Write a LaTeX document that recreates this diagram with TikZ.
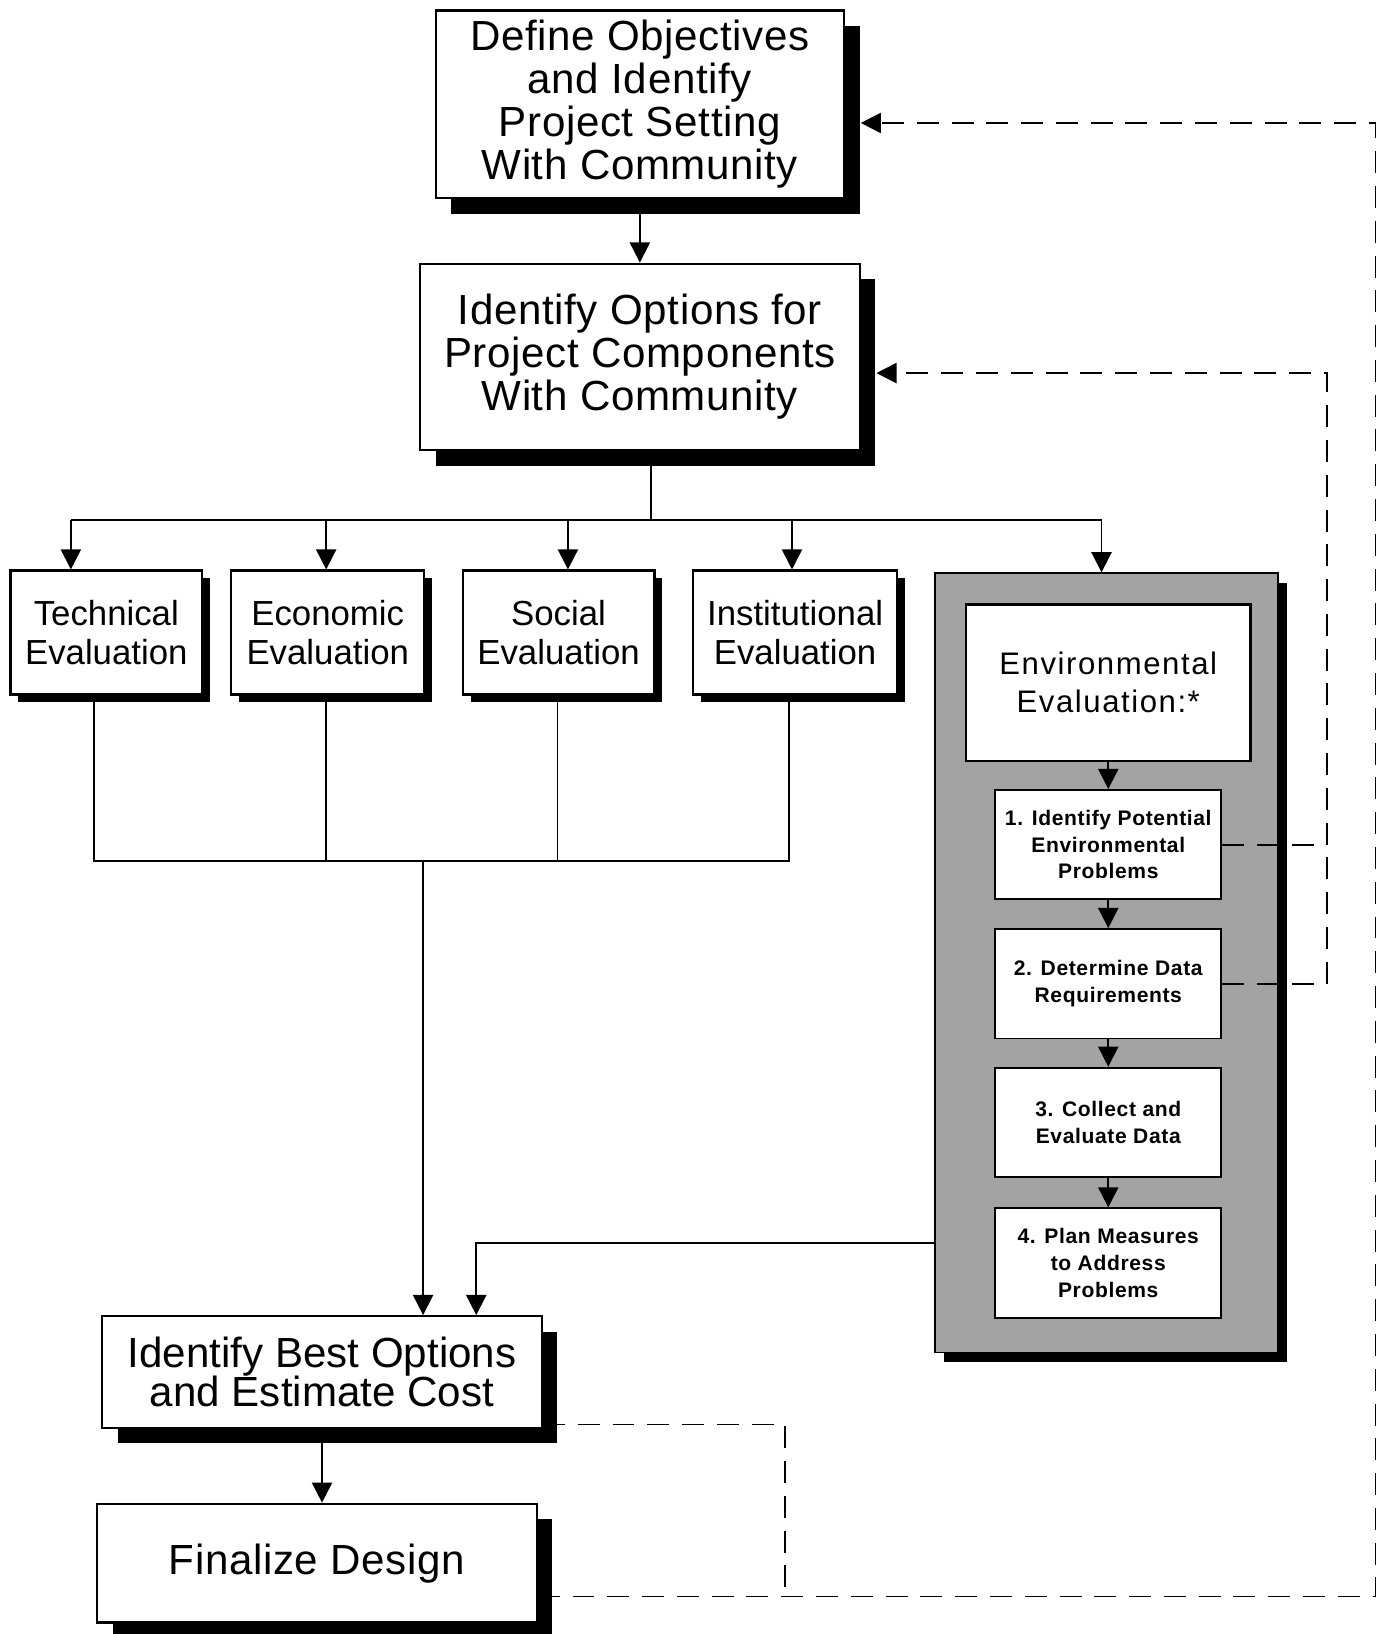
\documentclass[tikz,border=0pt]{standalone}
\usepackage{fontspec}
\setmainfont{Liberation Sans}
\usetikzlibrary{arrows.meta, shadows}

\begin{document}
\begin{tikzpicture}[x=0.02cm, y=-0.02cm,
		box/.style={draw, line width=1.2pt, fill=white, align=center, inner sep=0pt},
		blackshadow/.style={drop shadow={shadow xshift=#1, shadow yshift=-#1, fill=black, opacity=1}},
		bigbox/.style={box, blackshadow=0.3cm, minimum width=8.44cm, font=\fontsize{23}{23.5}\selectfont\addfontfeature{LetterSpace=1.5}},
		evalbox/.style={box, blackshadow=0.15cm, minimum height=2.38cm, font=\fontsize{19}{21}\selectfont},
		stepbox/.style={box, line width=1pt, minimum width=4.34cm, minimum height=2.1cm, font=\fontsize{11.5}{14.6}\selectfont\bfseries\addfontfeature{LetterSpace=3}},
		arr/.style={->, >={Triangle[length=11pt, width=11pt]}, line width=1pt},
		dline/.style={dash pattern=on 12pt off 7pt, line width=1pt}]
				\useasboundingbox (0, 0) rectangle (1322, 1568);
				% top of the flow
				\node[bigbox, minimum width=7.84cm, minimum height=3.6cm] (define)at(614, 100) {Define Objectives\\and Identify\\Project Setting\\With Community};
				\node[bigbox, minimum height=3.58cm] (options)at(614, 342.5) {Identify Options for\\Project Components\\With Community};
				% evaluations
				\node[evalbox, minimum width=3.68cm] (tech)at(102, 607) {Technical\\Evaluation};
				\node[evalbox, minimum width=3.7cm] (econ)at(314.5, 607) {Economic\\Evaluation};
				\node[evalbox, minimum width=3.68cm] (soc)at(536, 607) {Social\\Evaluation};
				\node[evalbox, minimum width=3.92cm] (inst)at(763, 607) {Institutional\\Evaluation};
				\node[draw, line width=1pt, fill=black!36, blackshadow=0.18cm, minimum width=6.58cm, minimum height=14.96cm] (panel)at(1061.5, 924) {};
				\node[box, minimum width=5.46cm, minimum height=3cm, font=\fontsize{17}{20.6}\selectfont\addfontfeature{LetterSpace=5}] (env)at(1063.5, 655) {Environmental\\Evaluation:*};
				\node[stepbox] (s1)at(1063.5, 810.5) {1. Identify Potential\\Environmental\\Problems};
				\node[stepbox] (s2)at(1063.5, 944) {2. Determine Data\\Requirements};
				\node[stepbox] (s3)at(1063.5, 1077) {3. Collect and\\Evaluate Data};
				\node[stepbox] (s4)at(1063.5, 1212) {4. Plan Measures\\to Address\\Problems};
				% bottom of the flow
				\node[bigbox, minimum height=2.14cm, font=\fontsize{23}{21.5}\selectfont] (best)at(309, 1316.5) {Identify Best Options\\and Estimate Cost};
				\node[bigbox, minimum height=2.28cm] (final)at(304, 1500) {Finalize Design};
				% solid connectors
				\coordinate (bus)at(625, 499);
				\coordinate (bT)at(68, 499);
				\coordinate (bEc)at(313, 499);
				\coordinate (bS)at(545, 499);
				\coordinate (bI)at(760, 499);
				\coordinate (bE)at(1057, 499);
				\draw[arr] (define) -- (options);
				\draw[line width=1pt] (options.south -| bus) -- (bus);
				\draw[line width=1pt] (bT) -- (bE);
				\draw[arr] (bT) -- (bT |- tech.north);
				\draw[arr] (bEc) -- (bEc |- econ.north);
				\draw[arr] (bS) -- (bS |- soc.north);
				\draw[arr] (bI) -- (bI |- inst.north);
				\draw[arr] (bE) -- (bE |- panel.north);
				\coordinate (cT)at(90, 826);
				\coordinate (cEc)at(313, 826);
				\coordinate (cS)at(535, 826);
				\coordinate (cI)at(757, 826);
				\coordinate (cM)at(406, 826);
				\draw[line width=1pt] (tech.south -| cT) -- (cT) -- (cI) -- (inst.south -| cI);
				\draw[line width=1pt] (econ.south -| cEc) -- (cEc);
				\draw[line width=1pt] (soc.south -| cS) -- (cS);
				\draw[arr] (cM) -- (cM |- best.north);
				\draw[arr] (env) -- (s1);
				\draw[arr] (s1) -- (s2);
				\draw[arr] (s2) -- (s3);
				\draw[arr] (s3) -- (s4);
				\coordinate (jB)at(457, 1193);
				\draw[arr] (panel.west |- jB) -- (jB) -- (jB |- best.north);
				\draw[arr] (best.south) -- (best.south |- final.north);
				% dashed feedback
				\coordinate (dS)at(1273, 358);
				\draw[dline] (s1.east) -- (s1.east -| dS);
				\draw[dline, arr, shorten >=0.3cm] (s2.east) -| (dS) -- (dS -| options.east);
				\coordinate (dB)at(753, 1367);
				\coordinate (dF)at(753, 1532);
				\coordinate (dR)at(1320, 118);
				\draw[dline] (best.east |- dB) -- (dB) -- (dF);
				\draw[dline, arr, shorten >=0.3cm] (final.east |- dF) -| (dR) -- (dR -| define.east);
			\end{tikzpicture}
\end{document}
